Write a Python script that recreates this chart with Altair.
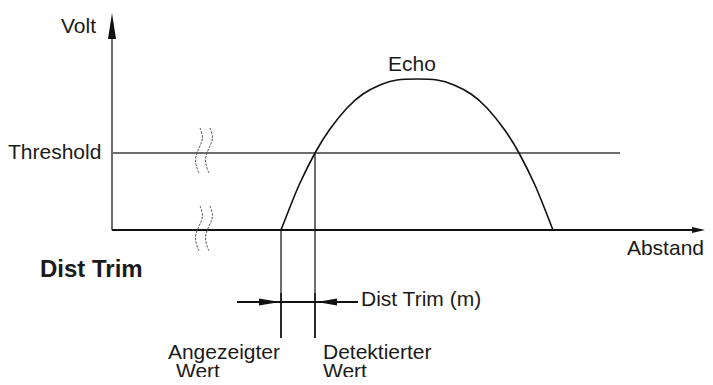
import altair as alt
import pandas as pd

# canvas in screen pixels (page margin 8px)
W, H = 697, 369
X0, Y0 = 8, 8
FONT = "Liberation Sans"
TXT = "#1a1a1a"

# gray guide lines: y axis, threshold, upper parts of the marker verticals
gray_x1 = [112, 112, 281, 315]
gray_y1 = [39, 153, 230, 153]
gray_x2 = [112, 620, 281, 315]
gray_y2 = [230, 153, 293, 293]

# black lines: x axis, lower parts of marker verticals, dimension line
black_x1 = [112, 281, 315, 237]
black_y1 = [230, 293, 293, 302]
black_x2 = [694, 281, 315, 358]
black_y2 = [230, 338, 338, 302]

# echo curve
echo_x = [281, 290, 300, 315, 330, 347, 363, 380, 397, 417, 437, 454, 471, 487, 504, 519, 534, 544, 553]
echo_y = [230, 207, 183, 153, 129, 108, 94, 85, 80, 79, 80, 85, 94, 108, 129, 153, 183, 207, 230]

# axis-break squiggles (two pairs)
brk_dx = [0, 3, 2, -2, -5, -4, -1]
brk_dy = [0, 8, 14, 22, 30, 38, 45]
brk_origin_x = [200, 210, 200, 210]
brk_origin_y = [128, 128, 206, 206]

# arrowheads as triangles
arr_id = ["yA", "yA", "xA", "xA", "dL", "dL", "dR", "dR"]
arr_p = [13, 39, 705, 692, 280, 259, 317, 337]      # along-axis position (tip, base)
arr_lo = [112, 108, 230, 227, 302, 298.5, 302, 298.5]
arr_hi = [112, 116, 230, 233, 302, 305.5, 302, 305.5]

# labels (left aligned)
lab_text = ["Volt", "Threshold", "Dist Trim (m)", "Wert", "Detektierter", "Wert"]
lab_x = [61, 8, 361, 176, 323, 323]
lab_y = [33, 159, 306, 378, 359, 378]
# labels (centered / right aligned)
c_text = ["Echo"]
c_x = [412]
c_y = [71]
r_text = ["Abstand", "Angezeigter"]
r_x = [704, 280]
r_y = [255, 359]
bold_text = ["Dist Trim"]
bold_x = [40]
bold_y = [277]

xs = alt.Scale(domain=[X0, X0 + W], nice=False, zero=False)
ys = alt.Scale(domain=[Y0 + H, Y0], nice=False, zero=False)


def X(f="x"):
    return alt.X(f"{f}:Q", scale=xs, axis=None)


def Y(f="y"):
    return alt.Y(f"{f}:Q", scale=ys, axis=None)


gray_df = pd.DataFrame({"x": gray_x1, "y": gray_y1, "x2": gray_x2, "y2": gray_y2})
black_df = pd.DataFrame({"x": black_x1, "y": black_y1, "x2": black_x2, "y2": black_y2})
echo_df = pd.DataFrame({"x": echo_x, "y": echo_y, "o": list(range(len(echo_x)))})

brk_rows = []
for k, (ox, oy) in enumerate(zip(brk_origin_x, brk_origin_y)):
    for i, (dx, dy) in enumerate(zip(brk_dx, brk_dy)):
        brk_rows.append({"g": k, "o": i, "x": ox + dx, "y": oy + dy})
brk_df = pd.DataFrame(brk_rows)

arr_df = pd.DataFrame({"id": arr_id, "p": arr_p, "lo": arr_lo, "hi": arr_hi})
vert_arr = arr_df[arr_df["id"] == "yA"]
horz_arr = arr_df[arr_df["id"] != "yA"]

lab_df = pd.DataFrame({"t": lab_text, "x": lab_x, "y": lab_y})
c_df = pd.DataFrame({"t": c_text, "x": c_x, "y": c_y})
r_df = pd.DataFrame({"t": r_text, "x": r_x, "y": r_y})
bold_df = pd.DataFrame({"t": bold_text, "x": bold_x, "y": bold_y})

gray = alt.Chart(gray_df).mark_rule(color="#6d6d6d", strokeWidth=2).encode(
    x=X(), y=Y(), x2="x2:Q", y2="y2:Q")
black = alt.Chart(black_df).mark_rule(color="#111111", strokeWidth=1.8).encode(
    x=X(), y=Y(), x2="x2:Q", y2="y2:Q")
echo = alt.Chart(echo_df).mark_line(color="#111111", strokeWidth=1.6,
                                    interpolate="natural").encode(
    x=X(), y=Y(), order="o:Q")
brk = alt.Chart(brk_df).mark_line(color="#555555", strokeWidth=1,
                                  strokeDash=[2.5, 1.2], interpolate="basis").encode(
    x=X(), y=Y(), detail="g:N", order="o:Q")
arr_v = alt.Chart(vert_arr).mark_area(color="#111111", orient="horizontal").encode(
    y=Y("p"), x=X("lo"), x2="hi:Q", detail="id:N")
arr_h = alt.Chart(horz_arr).mark_area(color="#111111", orient="vertical").encode(
    x=X("p"), y=Y("lo"), y2="hi:Q", detail="id:N")


def texts(df, align, size=21, weight="normal"):
    return alt.Chart(df).mark_text(align=align, baseline="alphabetic", font=FONT,
                                   fontSize=size, fontWeight=weight, color=TXT).encode(
        x=X(), y=Y(), text="t:N")


labels = texts(lab_df, "left")
clabels = texts(c_df, "center")
rlabels = texts(r_df, "right")
bold = texts(bold_df, "left", size=24, weight="bold")

chart = alt.layer(gray, black, echo, brk, arr_v, arr_h, labels, clabels, rlabels, bold).properties(
    width=W, height=H, autosize=alt.AutoSizeParams(type="none"), padding=0
).configure_view(stroke=None)

chart.save("out.html", embed_options={"renderer": "svg", "actions": False})
